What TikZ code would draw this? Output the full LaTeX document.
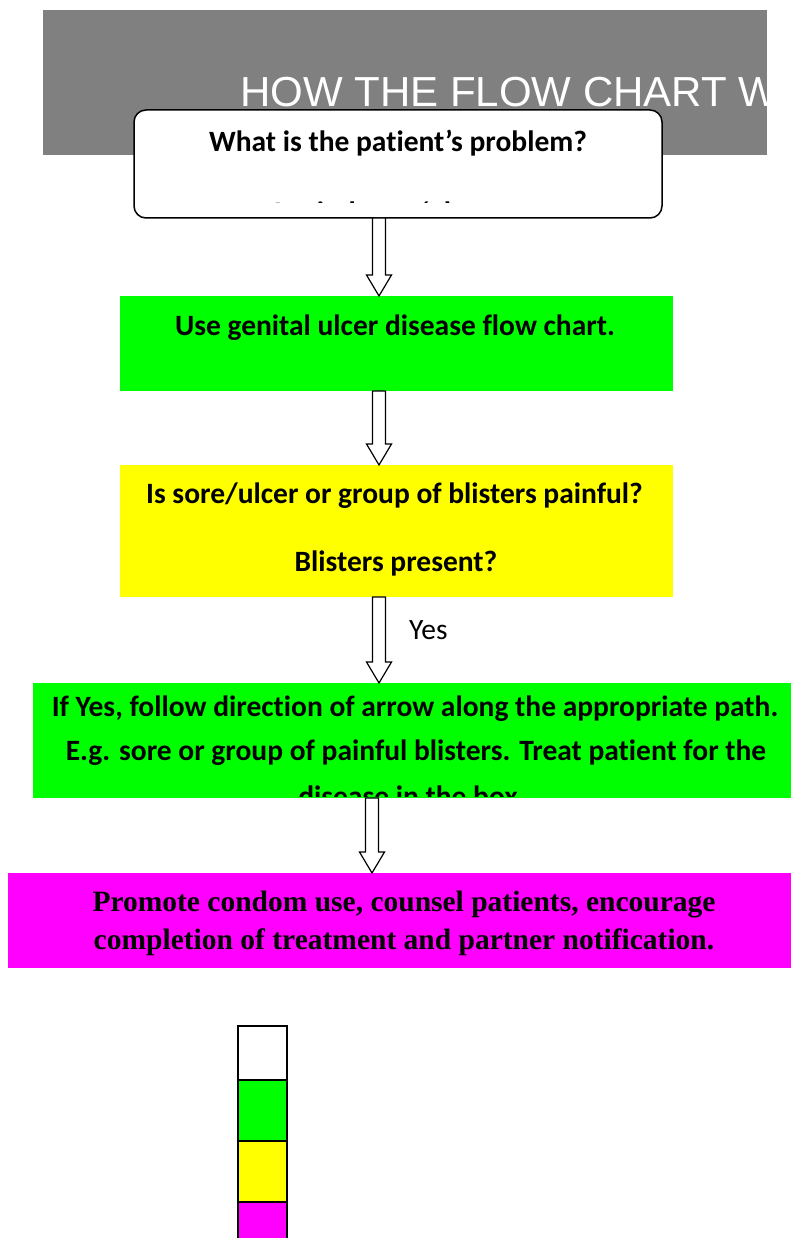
\documentclass[tikz,border=0pt]{standalone}
\usepackage{fontspec}
\setmainfont{Carlito}[Ligatures=NoCommon]
\newfontfamily\arialf{Liberation Sans}
\newfontfamily\timesf{Liberation Serif}
\usetikzlibrary{calc}
\definecolor{hdrgray}{HTML}{808080}
\definecolor{boxgreen}{HTML}{00FF00}
\definecolor{boxyellow}{HTML}{FFFF00}
\definecolor{boxmagenta}{HTML}{FF00FF}
\tikzset{
  plainbox/.style={draw=none, inner sep=0pt, outer sep=0pt},
  bodytext/.style={inner sep=0pt, anchor=base, font=\fontsize{29.5}{34}\selectfont\bfseries},
  serifText/.style={inner sep=0pt, anchor=base, font=\timesf\fontsize{29.5}{34}\selectfont\bfseries},
  hollow/.style={draw=black, fill=white, line width=1.2pt, line join=miter},
  legendsq/.style={draw=black, line width=1.6pt}
}
\newcommand{\hollowarrow}[3]{%
  \draw[hollow] let \p1=(#2.south), \p2=(#3.north) in
    (#1-6.5,\y1) -- (#1-6.5,\y2+21) -- (#1-12.5,\y2+21) -- (#1,\y2)
    -- (#1+12.5,\y2+21) -- (#1+6.5,\y2+21) -- (#1+6.5,\y1) -- cycle;}
\begin{document}
\begin{tikzpicture}[x=1pt,y=1pt]
\useasboundingbox (0,0) rectangle (791,-1238);
% header
\fill[hdrgray] (43,-10) rectangle (767,-155);
\begin{scope}
  \clip (43,-10) rectangle (767,-155);
  \node[inner sep=0pt, anchor=base west, text=white, font=\arialf\fontsize{42}{48}\selectfont] (title) at (240,-107) {HOW THE FLOW CHART W};
\end{scope}
% top question box
\node[plainbox, draw=black, line width=1.5pt, rounded corners=12pt, fill=white, minimum width=528pt, minimum height=108pt] (q) at (398,-164) {};
\node[bodytext] (qt) at (398,-152) {What is the patient’s problem?};
\begin{scope}
  \clip (134,-110) rectangle (662,-203);
  \node[bodytext] (qt2) at (378,-222.5) {Genital sore/ulcer};
\end{scope}
% green box 1
\node[plainbox, fill=boxgreen, minimum width=553pt, minimum height=95pt] (g1) at (396.5,-343.5) {};
\node[bodytext] (g1t) at (395,-335) {Use genital ulcer disease flow chart.};
% yellow box
\node[plainbox, fill=boxyellow, minimum width=553pt, minimum height=132pt] (y1) at (396.5,-531) {};
\node[bodytext] (y1t) at (394.5,-503) {Is sore/ulcer or group of blisters painful?};
\node[bodytext] (y1t2) at (396,-571) {Blisters present?};
% green box 2
\node[plainbox, fill=boxgreen, minimum width=764pt, minimum height=115pt] (g2) at (415,-740.5) {};
\node[bodytext] (g2t1) at (415,-716) {If Yes, follow direction of arrow along the appropriate path.};
\node[bodytext] (g2t2) at (416,-760) {E.g. sore or group of painful blisters. Treat patient for the};
\begin{scope}
  \clip (33,-683) rectangle (797,-796);
  \node[bodytext] (g2t3) at (412,-806) {disease in the box.};
\end{scope}
% magenta box
\node[plainbox, fill=boxmagenta, minimum width=792pt, minimum height=95pt] (m1) at (404,-920.5) {};
\node[serifText] (m1t1) at (404,-911) {Promote condom use, counsel patients, encourage};
\node[serifText] (m1t2) at (404,-949) {completion of treatment and partner notification.};
% arrows
\hollowarrow{379}{q}{g1}
\hollowarrow{379}{g1}{y1}
\hollowarrow{379}{y1}{g2}
\hollowarrow{372}{g2}{m1}
\node[inner sep=0pt, anchor=base west, font=\fontsize{29.5}{34}\selectfont] (yes) at (409,-639) {Yes};
% legend
\node[plainbox, legendsq, fill=white, minimum width=49pt, minimum height=54pt] (lw) at (262.5,-1053) {};
\node[plainbox, legendsq, fill=boxgreen, minimum width=49pt, minimum height=61pt, anchor=north] (lg) at (lw.south) {};
\node[plainbox, legendsq, fill=boxyellow, minimum width=49pt, minimum height=61pt, anchor=north] (ly) at (lg.south) {};
\node[plainbox, legendsq, fill=boxmagenta, minimum width=49pt, minimum height=61pt, anchor=north] (lm) at (ly.south) {};
\end{tikzpicture}
\end{document}
